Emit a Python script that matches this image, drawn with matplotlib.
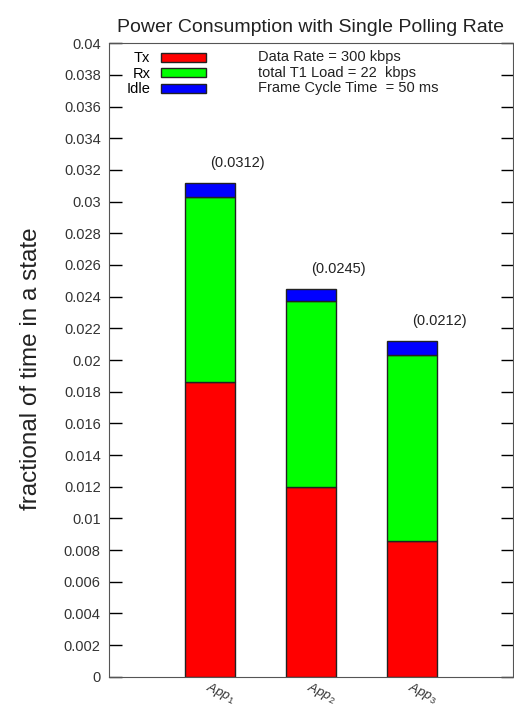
import numpy as np
import matplotlib
matplotlib.use("Agg")
import matplotlib.pyplot as plt
from matplotlib.patches import Patch

plt.rcParams['font.family'] = ['Liberation Sans', 'DejaVu Sans']
plt.rcParams['mathtext.fontset'] = 'custom'
plt.rcParams['mathtext.it'] = 'Liberation Sans:italic'
plt.rcParams['mathtext.rm'] = 'Liberation Sans'

# Data
apps = [r'$App_1$', r'$App_2$', r'$App_3$']
tx = [0.0186, 0.0120, 0.0086]
rx = [0.0117, 0.0117, 0.0117]
idle = [0.0009, 0.0008, 0.0009]
totals = ['(0.0312)', '(0.0245)', '(0.0212)']
info_lines = ["Data Rate = 300 kbps", "total T1 Load = 22  kbps", "Frame Cycle Time  = 50 ms"]

x = np.arange(1, len(apps) + 1)
tx = np.array(tx)
rx = np.array(rx)
idle = np.array(idle)

fig = plt.figure(figsize=(5.14, 7.08), dpi=100)
ax = fig.add_axes([0.212, 0.044, 0.786, 0.895])

w = 0.5
ec = '#222222'
ax.bar(x, tx, w, color='#ff0000', edgecolor=ec, linewidth=1, label='Tx')
ax.bar(x, rx, w, bottom=tx, color='#00ff00', edgecolor=ec, linewidth=1, label='Rx')
ax.bar(x, idle, w, bottom=tx + rx, color='#0000ff', edgecolor=ec, linewidth=1, label='Idle')

top = tx + rx + idle
for xi, t, lab in zip(x, top, totals):
    ax.text(xi + 0.27, t + 0.0008, lab, ha='center', va='bottom', fontsize=10.5, color='#222222')

ax.set_xlim(0, 4)
ax.set_ylim(0, 0.04)
ax.set_yticks(np.arange(0, 0.0401, 0.002))
ax.set_yticklabels(['0'] + ['%g' % v for v in np.arange(0.002, 0.0401, 0.002)])
ax.set_xticks(x)
ax.set_xticklabels(apps, rotation=-25, ha='left', va='top', rotation_mode='anchor',
                   fontsize=9.5, color='#333333')
ax.tick_params(axis='x', length=0, pad=2)
ax.tick_params(axis='y', direction='in', length=9, right=True, labelsize=10.5,
               labelcolor='#333333', width=1, pad=6)
for s in ax.spines.values():
    s.set_color('#555555')

ax.set_ylabel('fractional of time in a state', fontsize=17.5, color='#222222')
ax.yaxis.set_label_coords(-0.166, 0.487)
ax.set_title('Power Consumption with Single Polling Rate', fontsize=14, color='#222222', pad=8)

handles = [Patch(facecolor='#ff0000', edgecolor=ec, label='Tx'),
           Patch(facecolor='#00ff00', edgecolor=ec, label='Rx'),
           Patch(facecolor='#0000ff', edgecolor=ec, label='Idle')]
ax.legend(handles=handles, loc='upper left', bbox_to_anchor=(0.018, 1.003), frameon=False,
          markerfirst=False, fontsize=10.5, handlelength=3.1, handleheight=0.55,
          labelspacing=0.1, handletextpad=0.7, borderaxespad=0.3)

for i, line in enumerate(info_lines):
    ax.text(0.369, 0.978 - i * 0.0245, line, transform=ax.transAxes,
            fontsize=10.5, color='#222222', va='center', ha='left')

fig.savefig('out.png', dpi=100)
